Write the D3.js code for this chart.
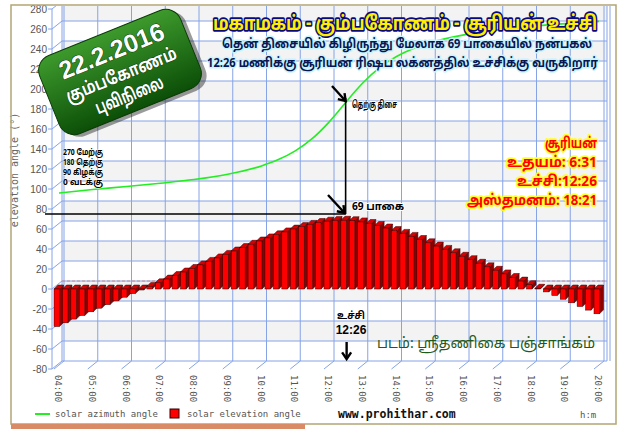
<!DOCTYPE html>
<html>
<head>
<meta charset="utf-8">
<script src="https://cdn.jsdelivr.net/npm/d3@7"></script>
<style>
  body { margin: 0; background: #fff; }
  svg { display: block; }
</style>
</head>
<body>
<div id="chart"></div>
<script>
// hour ticks on the x axis
var hourTicks = [4, 5, 6, 7, 8, 9, 10, 11, 12, 13, 14, 15, 16, 17, 18, 19, 20];
var hourLabels = ["04:00", "05:00", "06:00", "07:00", "08:00", "09:00", "10:00", "11:00", "12:00",
                  "13:00", "14:00", "15:00", "16:00", "17:00", "18:00", "19:00", "20:00"];
var yTicks = [-80, -60, -40, -20, 0, 20, 40, 60, 80, 100, 120, 140, 160, 180, 200, 220, 240, 260, 280];

// solar elevation angle every 15 minutes, 04:00 .. 20:00
var barTimes = d3.range(4, 20.001, 0.25);
var elevation = [-37.5, -33.8, -30.1, -26.5, -22.8, -19.2, -15.6, -11.9, -8.2, -4.6, -1.0,
                 2.6, 6.2, 9.9, 13.4, 17.0, 20.5, 24.1, 27.6, 31.1, 34.6, 38.0, 41.4, 44.7, 48.0,
                 51.1, 54.2, 57.1, 59.9, 62.4, 64.6, 66.5, 67.8, 68.6, 68.7,
                 68.3, 67.1, 65.5, 63.5, 61.0, 58.4, 55.6, 52.6, 49.5, 46.2, 42.9, 39.6, 36.2,
                 32.7, 29.3, 25.7, 22.2, 18.7, 15.1, 11.5, 7.9, 4.3, 0.7,
                 -2.9, -6.5, -10.2, -13.8, -17.5, -21.1, -24.8];

// solar azimuth angle (green line)
var aziTimes = [4, 5, 6, 7, 8, 9, 10, 10.5, 11, 11.5, 12, 12.25, 12.5, 12.75, 13, 13.5, 14, 14.5, 15, 16, 17, 18, 19, 20];
var azimuth = [92, 95.5, 98.5, 101.8, 105.5, 110.8, 119.1, 125.4, 134.1, 146.3, 162.9, 172.6, 182.7, 192.7,
               202.0, 217.4, 228.5, 236.5, 242.3, 250.1, 255.1, 258.6, 261.4, 263.6];

var noonTime = 12 + 26 / 60;
var noonElevation = 69;

var title = "மகாமகம் - கும்பகோணம் - சூரியன் உச்சி";
var subtitle = ["தென் திசையில் கிழிருந்து மேலாக 69 பாகையில் நன்பகல்",
                "12:26 மணிக்கு சூரியன் ரிஷப லக்னத்தில் உச்சிக்கு வருகிறார்"];
var badgeLines = ["22.2.2016", "கும்பகோணம்", "புவிநிலை"];
var sunLines = ["சூரியன்", "உதயம்: 6:31", "உச்சி:12:26", "அஸ்தமனம்: 18:21"];
var compassLines = ["270 மேற்கு", "180 தெற்கு", "90 கிழக்கு", "0 வடக்கு"];

var tamilFont = "'Noto Sans Tamil', 'Lohit Tamil', 'Noto Sans', sans-serif";
var monoFont = "'DejaVu Sans Mono', monospace";

var width = 629, height = 429;
var wall = {x: 10, y: -8};   // depth offset of the back wall
var bar = {w: 5.5, dx: 4, dy: -4};
var gridColor = "#86a3e6";

var svg = d3.select('#chart').append('svg')
    .attr('width', width)
    .attr('height', height);

var defs = svg.append('defs');
defs.append('clipPath').attr('id', 'frame')
    .append('rect').attr('x', 12).attr('y', 6).attr('width', 603).attr('height', 417);

var grad = defs.append('linearGradient').attr('id', 'badgeGrad')
    .attr('x1', 0).attr('y1', 0).attr('x2', 0).attr('y2', 1);
grad.append('stop').attr('offset', '0%').attr('stop-color', '#3d9a2c');
grad.append('stop').attr('offset', '100%').attr('stop-color', '#0c4f08');

var xScale = d3.scaleLinear().domain([4, 20]).range([54, 594]);
var yScale = d3.scaleLinear().domain([-80, 280]).range([369, 9]);

var left = 52, right = 597;

var chart = svg.append('g').attr('clip-path', 'url(#frame)');

// back wall bands
chart.append('g').selectAll('rect')
    .data(yTicks.slice(0, -1))
    .enter().append('rect')
    .attr('x', left + wall.x)
    .attr('y', function(d) { return yScale(d + 20) + wall.y; })
    .attr('width', right - left)
    .attr('height', function(d) { return yScale(d) - yScale(d + 20); })
    .attr('fill', function(d) { return Math.abs(d / 20) % 2 === 1 ? '#f3f3f3' : '#fff'; });

var grid = chart.append('g').attr('stroke', gridColor).attr('stroke-width', 1).attr('fill', 'none');

// horizontal lines on the back wall and left wall
yTicks.forEach(function(v) {
    var yy = yScale(v);
    grid.append('line').attr('x1', left + wall.x).attr('x2', right + wall.x)
        .attr('y1', yy + wall.y).attr('y2', yy + wall.y);
    grid.append('line').attr('x1', left).attr('x2', left + wall.x)
        .attr('y1', yy).attr('y2', yy + wall.y);
});

// vertical lines on the back wall and floor diagonals
hourTicks.forEach(function(h) {
    var xx = xScale(h);
    grid.append('line').attr('x1', xx + wall.x).attr('x2', xx + wall.x)
        .attr('y1', yScale(-80) + wall.y).attr('y2', 0);
    grid.append('line').attr('x1', xx).attr('x2', xx + wall.x)
        .attr('y1', yScale(-80)).attr('y2', yScale(-80) + wall.y);
});
grid.append('line').attr('x1', left + wall.x).attr('x2', left + wall.x)
    .attr('y1', yScale(-80) + wall.y).attr('y2', 0);
grid.append('line').attr('x1', right + wall.x).attr('x2', right + wall.x)
    .attr('y1', yScale(-80) + wall.y).attr('y2', 0);
grid.append('line').attr('x1', right + wall.x + 3).attr('x2', right + wall.x + 3)
    .attr('y1', yScale(-80) + wall.y).attr('y2', 0);

// zero line
chart.append('line')
    .attr('x1', left + wall.x).attr('x2', right + wall.x)
    .attr('y1', yScale(0) + wall.y).attr('y2', yScale(0) + wall.y)
    .attr('stroke', '#c89090').attr('stroke-dasharray', '3,2');

// front y axis
var axisG = svg.append('g');
axisG.append('line').attr('x1', left).attr('x2', left)
    .attr('y1', yScale(-80)).attr('y2', yScale(280)).attr('stroke', gridColor);
axisG.selectAll('.tick')
    .data(yTicks)
    .enter().append('line')
    .attr('x1', left - 4).attr('x2', left)
    .attr('y1', function(d) { return yScale(d); })
    .attr('y2', function(d) { return yScale(d); })
    .attr('stroke', gridColor);
axisG.selectAll('text')
    .data(yTicks)
    .enter().append('text')
    .attr('x', left - 5)
    .attr('y', function(d) { return yScale(d) + 3.5; })
    .attr('text-anchor', 'end')
    .attr('font-family', "'Liberation Sans', Arial, sans-serif")
    .attr('font-size', 10)
    .attr('fill', '#555')
    .text(function(d) { return d; });

svg.append('text')
    .attr('transform', 'translate(18,170) rotate(-90)')
    .attr('text-anchor', 'middle')
    .attr('font-family', monoFont)
    .attr('font-size', 10)
    .attr('fill', '#666')
    .text('elevation angle (°)');

// x labels
svg.append('g').selectAll('text')
    .data(hourTicks)
    .enter().append('text')
    .attr('transform', function(d) { return 'translate(' + (xScale(d) + 1) + ',375) rotate(90)'; })
    .attr('font-family', monoFont)
    .attr('font-size', 9)
    .attr('fill', '#555')
    .text(function(d, i) { return hourLabels[i]; });

// 3D bars
var bars = chart.append('g').selectAll('g')
    .data(barTimes.map(function(t, i) { return {t: t, v: elevation[i]}; }))
    .enter().append('g');

bars.each(function(d) {
    var g = d3.select(this);
    var x0 = xScale(d.t), x1 = x0 + bar.w;
    var yTop = yScale(Math.max(d.v, 0)), yBot = yScale(Math.min(d.v, 0));
    // side face
    g.append('path')
        .attr('d', 'M' + x1 + ',' + yTop + 'L' + (x1 + bar.dx) + ',' + (yTop + bar.dy) +
              'L' + (x1 + bar.dx) + ',' + (yBot + bar.dy) + 'L' + x1 + ',' + yBot + 'Z')
        .attr('fill', '#8c0000').attr('stroke', '#3a0000').attr('stroke-width', 0.5);
    // top face
    g.append('path')
        .attr('d', 'M' + x0 + ',' + yTop + 'L' + (x0 + bar.dx) + ',' + (yTop + bar.dy) +
              'L' + (x1 + bar.dx) + ',' + (yTop + bar.dy) + 'L' + x1 + ',' + yTop + 'Z')
        .attr('fill', '#d80000').attr('stroke', '#3a0000').attr('stroke-width', 0.5);
    // front face
    g.append('rect')
        .attr('x', x0).attr('y', yTop)
        .attr('width', bar.w).attr('height', Math.max(yBot - yTop, 0.5))
        .attr('fill', '#ff0000').attr('stroke', '#3a0000').attr('stroke-width', 0.5);
});

// azimuth line
var line = d3.line()
    .x(function(d) { return xScale(d[0]) + 5; })
    .y(function(d) { return yScale(d[1]) - 4; })
    .curve(d3.curveMonotoneX);
chart.append('path')
    .datum(aziTimes.map(function(t, i) { return [t, azimuth[i]]; }))
    .attr('d', line)
    .attr('fill', 'none')
    .attr('stroke', '#22ee22')
    .attr('stroke-width', 1.6);

// noon annotation
var nx = xScale(noonTime) + 7;
var ny = yScale(noonElevation) - 6;
var ann = svg.append('g').attr('stroke', '#000').attr('fill', 'none').attr('stroke-width', 1.6);
ann.append('line').attr('x1', 45).attr('x2', nx).attr('y1', ny).attr('y2', ny);
ann.append('line').attr('x1', nx).attr('x2', nx).attr('y1', 98).attr('y2', ny);

function arrow(x1, y1, x2, y2) {
    var a = Math.atan2(y2 - y1, x2 - x1), s = 8;
    ann.append('line').attr('x1', x1).attr('y1', y1).attr('x2', x2).attr('y2', y2).attr('stroke-width', 2.4);
    ann.append('path')
        .attr('d', 'M' + (x2 - s * Math.cos(a - 0.6)) + ',' + (y2 - s * Math.sin(a - 0.6)) +
              'L' + x2 + ',' + y2 +
              'L' + (x2 - s * Math.cos(a + 0.6)) + ',' + (y2 - s * Math.sin(a + 0.6)))
        .attr('stroke-width', 2.4);
}
arrow(332, 86, nx, 101);
arrow(328, 195, nx - 1, ny - 1);
arrow(nx + 1, 342, nx + 1, 359);

function glowText(parent, txt, x, y, size, fill, glow, gw, weight, anchor, len) {
    var t = parent.append('text')
        .attr('x', x).attr('y', y)
        .attr('font-family', tamilFont)
        .attr('font-size', size)
        .attr('font-weight', weight || 'bold')
        .attr('text-anchor', anchor || 'start')
        .attr('fill', fill)
        .attr('stroke', glow || 'none')
        .attr('stroke-width', gw || 0)
        .attr('stroke-linejoin', 'round')
        .attr('paint-order', 'stroke')
        .text(txt);
    if (len) t.attr('textLength', len).attr('lengthAdjust', 'spacingAndGlyphs');
    return t;
}

var labels = svg.append('g');
glowText(labels, 'தெற்கு திசை', 352, 108, 10, '#000', '#fff', 2, 'bold', 'start', 45);
glowText(labels, '69 பாகை', 352, 210, 11, '#000', '#fff', 2, 'bold', 'start', 52);
glowText(labels, 'உச்சி', 351, 319, 10, '#000', '#fff', 2, 'bold', 'middle', 28);
labels.append('text').attr('x', 351).attr('y', 334)
    .attr('text-anchor', 'middle').attr('font-family', "'Liberation Sans', Arial, sans-serif")
    .attr('font-size', 12).attr('font-weight', 'bold').attr('fill', '#000').text('12:26');

compassLines.forEach(function(s, i) {
    glowText(labels, s, 63, 155 + i * 10, 8.5, '#000', '#fff', 1, 'bold', 'start', 40);
});

// titles
glowText(labels, title, 213, 30, 20, '#ffee00', '#0a0a80', 3.5, 'bold', 'start', 384);
glowText(labels, subtitle[0], 222, 48, 13, '#0a1650', '#c8f4ff', 3, 'bold', 'start', 370);
glowText(labels, subtitle[1], 207, 67, 13, '#0a1650', '#c8f4ff', 3, 'bold', 'start', 391);

// sun times
var sunLens = [52, 90, 80, 130];
sunLines.forEach(function(s, i) {
    glowText(labels, s, 597, 148 + i * 19, 15, '#ff0000', '#ffff30', 3.5, 'bold', 'end', sunLens[i]);
});

glowText(labels, 'படம்: ஸ்ரீதணிகை பஞ்சாங்கம்', 377, 348, 15, '#1f5a1a', null, 0, 'normal', 'start', 218);

// badge
var badge = svg.append('g').attr('transform', 'translate(120,72) rotate(-22)');
badge.append('rect').attr('x', -72).attr('y', -38).attr('width', 152).attr('height', 84)
    .attr('rx', 16).attr('fill', '#222').attr('opacity', 0.45);
badge.append('rect').attr('x', -76).attr('y', -42).attr('width', 152).attr('height', 84)
    .attr('rx', 16).attr('fill', 'url(#badgeGrad)').attr('stroke', '#0a3a05');
badge.append('text').attr('x', 0).attr('y', -14)
    .attr('text-anchor', 'middle').attr('font-family', "'Liberation Sans', Arial, sans-serif")
    .attr('font-size', 25).attr('font-weight', 'bold').attr('fill', '#fff')
    .attr('stroke', '#0a3a05').attr('stroke-width', 1).attr('paint-order', 'stroke')
    .text(badgeLines[0]);
glowText(badge, badgeLines[1], 0, 9, 18, '#fff', '#0a3a05', 1, 'bold', 'middle', 118);
glowText(badge, badgeLines[2], 0, 31, 18, '#fff', '#0a3a05', 1, 'bold', 'middle', 72);

// legend
var legend = svg.append('g').attr('font-family', monoFont).attr('font-size', 9).attr('fill', '#555');
legend.append('line').attr('x1', 35).attr('x2', 50).attr('y1', 414).attr('y2', 414)
    .attr('stroke', '#22ee22').attr('stroke-width', 2);
legend.append('text').attr('x', 55).attr('y', 417).text('solar azimuth angle');
legend.append('rect').attr('x', 170).attr('y', 409).attr('width', 9).attr('height', 9)
    .attr('fill', '#ff0000').attr('stroke', '#300');
legend.append('text').attr('x', 187).attr('y', 417).text('solar elevation angle');
legend.append('text').attr('x', 338).attr('y', 418).attr('font-size', 11.5)
    .attr('font-weight', 'bold').attr('fill', '#111').text('www.prohithar.com');
legend.append('text').attr('x', 580).attr('y', 418).text('h:m');

// outer frame
svg.append('rect').attr('x', 11).attr('y', 5).attr('width', 605).attr('height', 419)
    .attr('fill', 'none').attr('stroke', '#b3a574').attr('stroke-width', 1.5);
svg.append('rect').attr('x', 11).attr('y', 424).attr('width', 294).attr('height', 5)
    .attr('fill', '#d98b66');
</script>
</body>
</html>
